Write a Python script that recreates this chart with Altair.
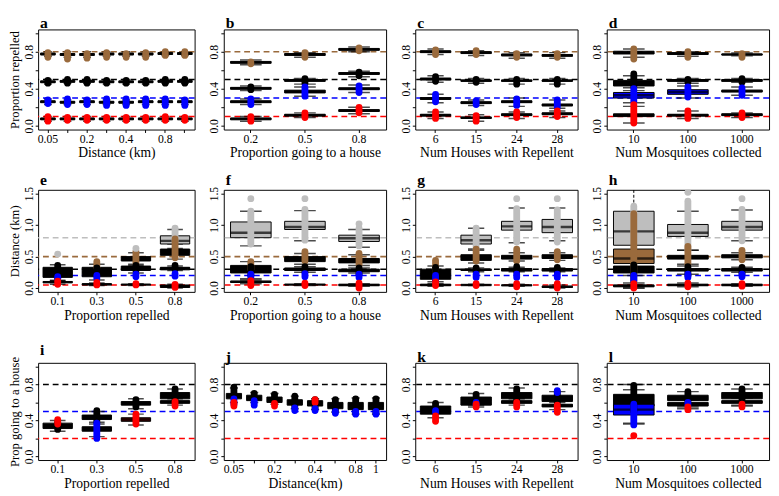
import json
import altair as alt
import pandas as pd

K = "black"; BR = "#9a6a3c"; BL = "#0000ff"; R = "#ff0000"; GR = "#bebebe"; DR = "#5a0000"
FONT = "Liberation Serif"
W1, W = 161, 167          # first-column panel width, other panels
H1, H2, H3 = 103, 105, 100

# ---------------- row 1 : Proportion repelled ----------------
A_CATS = ["0.05", "0.1", "0.2", "0.3", "0.4", "0.6", "0.8", "1"]
A_SHOWN = ["0.05", "0.2", "0.4", "0.8"]
A_BOX = [
    ("0.05", 0.75, 0.765, 0.775, 0.785, 0.80, K), ("0.05", 0.45, 0.465, 0.475, 0.485, 0.50, K), ("0.05", 0.23, 0.25, 0.26, 0.27, 0.29, K), ("0.05", 0.05, 0.065, 0.075, 0.085, 0.10, K),
    ("0.1", 0.74, 0.76, 0.77, 0.78, 0.80, K), ("0.1", 0.46, 0.47, 0.48, 0.49, 0.50, K), ("0.1", 0.23, 0.245, 0.255, 0.265, 0.28, K), ("0.1", 0.05, 0.065, 0.075, 0.085, 0.10, K),
    ("0.2", 0.74, 0.76, 0.77, 0.78, 0.80, K), ("0.2", 0.46, 0.47, 0.48, 0.49, 0.50, K), ("0.2", 0.23, 0.25, 0.26, 0.27, 0.29, K), ("0.2", 0.05, 0.065, 0.075, 0.085, 0.10, K),
    ("0.3", 0.75, 0.765, 0.775, 0.785, 0.80, K), ("0.3", 0.45, 0.465, 0.475, 0.485, 0.50, K), ("0.3", 0.23, 0.245, 0.255, 0.265, 0.28, K), ("0.3", 0.05, 0.065, 0.075, 0.085, 0.10, K),
    ("0.4", 0.75, 0.765, 0.775, 0.785, 0.80, K), ("0.4", 0.45, 0.465, 0.475, 0.485, 0.50, K), ("0.4", 0.23, 0.245, 0.255, 0.265, 0.28, K), ("0.4", 0.05, 0.065, 0.075, 0.085, 0.10, K),
    ("0.6", 0.75, 0.765, 0.775, 0.785, 0.80, K), ("0.6", 0.45, 0.465, 0.475, 0.485, 0.50, K), ("0.6", 0.23, 0.25, 0.26, 0.27, 0.29, K), ("0.6", 0.05, 0.065, 0.075, 0.085, 0.10, K),
    ("0.8", 0.76, 0.77, 0.78, 0.79, 0.80, K), ("0.8", 0.46, 0.47, 0.48, 0.49, 0.50, K), ("0.8", 0.23, 0.25, 0.26, 0.27, 0.29, K), ("0.8", 0.05, 0.065, 0.075, 0.085, 0.10, K),
    ("1", 0.76, 0.77, 0.78, 0.79, 0.80, K), ("1", 0.46, 0.47, 0.48, 0.49, 0.50, K), ("1", 0.23, 0.25, 0.26, 0.27, 0.29, K), ("1", 0.05, 0.065, 0.075, 0.085, 0.10, K),
]
A_PTS = [
    ("0.05", 0.74, 0.79, BR), ("0.05", 0.46, 0.49, K), ("0.05", 0.24, 0.28, BL), ("0.05", 0.05, 0.10, R),
    ("0.1", 0.72, 0.79, BR), ("0.1", 0.46, 0.50, K), ("0.1", 0.23, 0.29, BL), ("0.1", 0.06, 0.09, R),
    ("0.2", 0.73, 0.78, BR), ("0.2", 0.46, 0.50, K), ("0.2", 0.23, 0.28, BL), ("0.2", 0.06, 0.09, R),
    ("0.3", 0.74, 0.79, BR), ("0.3", 0.46, 0.49, K), ("0.3", 0.22, 0.29, BL), ("0.3", 0.06, 0.09, R),
    ("0.4", 0.74, 0.78, BR), ("0.4", 0.46, 0.49, K), ("0.4", 0.22, 0.29, BL), ("0.4", 0.06, 0.09, R),
    ("0.6", 0.74, 0.79, BR), ("0.6", 0.46, 0.49, K), ("0.6", 0.22, 0.29, BL), ("0.6", 0.06, 0.09, R),
    ("0.8", 0.76, 0.80, BR), ("0.8", 0.46, 0.50, K), ("0.8", 0.22, 0.29, BL), ("0.8", 0.06, 0.10, R),
    ("1", 0.76, 0.80, BR), ("1", 0.46, 0.50, K), ("1", 0.22, 0.28, BL), ("1", 0.06, 0.09, R),
]
A_OUT = []

B_CATS = ["0.2", "0.5", "0.8"]
B_BOX = [
    ("0.2", 0.66, 0.675, 0.685, 0.695, 0.71, K), ("0.2", 0.38, 0.395, 0.405, 0.415, 0.43, K), ("0.2", 0.23, 0.25, 0.26, 0.27, 0.29, K), ("0.2", 0.05, 0.065, 0.075, 0.085, 0.10, K),
    ("0.5", 0.74, 0.76, 0.77, 0.78, 0.79, K), ("0.5", 0.45, 0.48, 0.49, 0.50, 0.51, K), ("0.5", 0.32, 0.355, 0.37, 0.385, 0.42, K), ("0.5", 0.09, 0.105, 0.115, 0.125, 0.14, K),
    ("0.8", 0.80, 0.815, 0.825, 0.835, 0.85, K), ("0.8", 0.53, 0.555, 0.565, 0.575, 0.59, K), ("0.8", 0.36, 0.39, 0.40, 0.41, 0.44, K), ("0.8", 0.13, 0.155, 0.165, 0.175, 0.20, K),
]
B_PTS = [
    ("0.2", 0.67, 0.69, BR), ("0.2", 0.39, 0.42, K), ("0.2", 0.23, 0.29, BL), ("0.2", 0.05, 0.10, R),
    ("0.5", 0.74, 0.79, BR), ("0.5", 0.46, 0.51, K), ("0.5", 0.32, 0.42, BL), ("0.5", 0.09, 0.14, R),
    ("0.8", 0.81, 0.84, BR), ("0.8", 0.54, 0.58, K), ("0.8", 0.36, 0.43, BL), ("0.8", 0.14, 0.20, R),
]
B_OUT = []

C_CATS = ["6", "15", "24", "28"]
C_BOX = [
    ("6", 0.77, 0.79, 0.80, 0.81, 0.83, K), ("6", 0.47, 0.495, 0.505, 0.515, 0.54, K), ("6", 0.25, 0.285, 0.295, 0.305, 0.34, K), ("6", 0.08, 0.105, 0.115, 0.125, 0.15, K),
    ("15", 0.76, 0.78, 0.79, 0.80, 0.81, K), ("15", 0.46, 0.48, 0.487, 0.495, 0.51, K), ("15", 0.22, 0.24, 0.25, 0.26, 0.28, K), ("15", 0.05, 0.08, 0.087, 0.095, 0.12, K),
    ("24", 0.73, 0.755, 0.765, 0.775, 0.79, K), ("24", 0.45, 0.48, 0.487, 0.495, 0.51, K), ("24", 0.21, 0.25, 0.26, 0.27, 0.30, K), ("24", 0.08, 0.11, 0.12, 0.13, 0.15, K),
    ("28", 0.73, 0.75, 0.76, 0.77, 0.79, K), ("28", 0.45, 0.48, 0.487, 0.495, 0.51, K), ("28", 0.19, 0.215, 0.225, 0.235, 0.28, K), ("28", 0.09, 0.12, 0.13, 0.14, 0.16, K),
]
C_PTS = [
    ("6", 0.77, 0.82, BR), ("6", 0.48, 0.53, K), ("6", 0.26, 0.34, BL), ("6", 0.08, 0.15, R),
    ("15", 0.77, 0.81, BR), ("15", 0.47, 0.50, K), ("15", 0.23, 0.27, BL), ("15", 0.05, 0.11, R),
    ("24", 0.74, 0.78, BR), ("24", 0.45, 0.50, K), ("24", 0.22, 0.29, BL), ("24", 0.09, 0.15, R),
    ("28", 0.74, 0.78, BR), ("28", 0.45, 0.50, K), ("28", 0.20, 0.28, BL), ("28", 0.10, 0.16, R),
]
C_OUT = []

D_CATS = ["10", "100", "1000"]
D_BOX = [
    ("10", 0.74, 0.775, 0.79, 0.805, 0.83, K), ("10", 0.38, 0.43, 0.46, 0.49, 0.54, K), ("10", 0.25, 0.30, 0.33, 0.36, 0.41, BL), ("10", 0.03, 0.10, 0.115, 0.13, 0.21, K),
    ("100", 0.75, 0.77, 0.78, 0.79, 0.80, K), ("100", 0.46, 0.48, 0.49, 0.50, 0.51, K), ("100", 0.30, 0.34, 0.365, 0.39, 0.43, BL), ("100", 0.08, 0.105, 0.115, 0.125, 0.16, K),
    ("1000", 0.755, 0.765, 0.77, 0.775, 0.785, K), ("1000", 0.47, 0.48, 0.49, 0.50, 0.51, K), ("1000", 0.33, 0.365, 0.375, 0.385, 0.42, K), ("1000", 0.09, 0.11, 0.12, 0.13, 0.14, K),
]
D_PTS = [
    ("10", 0.72, 0.83, BR), ("10", 0.42, 0.56, K), ("10", 0.26, 0.40, BL), ("10", 0.03, 0.23, R),
    ("100", 0.74, 0.80, BR), ("100", 0.47, 0.50, K), ("100", 0.31, 0.42, BL), ("100", 0.08, 0.16, R),
    ("1000", 0.74, 0.78, BR), ("1000", 0.47, 0.51, K), ("1000", 0.33, 0.41, BL), ("1000", 0.09, 0.14, R),
]
D_OUT = []

ROW1_REFS = [(0.8, BR), (0.5, K), (0.3, BL), (0.1, R)]

# ---------------- row 2 : Distance (km) ----------------
E_CATS = ["0.1", "0.3", "0.5", "0.8"]
E_BOX = [
    ("0.1", 0.12, 0.17, 0.25, 0.33, 0.37, K), ("0.1", 0.06, 0.085, 0.095, 0.105, 0.12, K),
    ("0.3", 0.13, 0.18, 0.25, 0.33, 0.38, K), ("0.3", 0.04, 0.05, 0.06, 0.07, 0.08, K),
    ("0.5", 0.36, 0.43, 0.46, 0.50, 0.56, K), ("0.5", 0.24, 0.28, 0.31, 0.35, 0.38, K), ("0.5", 0.04, 0.05, 0.055, 0.06, 0.07, K),
    ("0.8", 0.63, 0.70, 0.75, 0.83, 0.93, GR), ("0.8", 0.46, 0.52, 0.58, 0.62, 0.70, K), ("0.8", 0.28, 0.29, 0.31, 0.33, 0.35, K), ("0.8", 0.0, 0.01, 0.03, 0.05, 0.06, K),
]
E_PTS = [
    ("0.1", 0.15, 0.36, K), ("0.1", 0.15, 0.18, BL), ("0.1", 0.06, 0.11, R),
    ("0.3", 0.33, 0.42, BR), ("0.3", 0.20, 0.32, K), ("0.3", 0.15, 0.20, BL), ("0.3", 0.05, 0.09, R),
    ("0.5", 0.40, 0.58, BR), ("0.5", 0.28, 0.36, K), ("0.5", 0.18, 0.22, BL), ("0.5", 0.05, 0.07, R),
    ("0.8", 0.75, 0.92, GR), ("0.8", 0.48, 0.78, BR), ("0.8", 0.30, 0.36, K), ("0.8", 0.19, 0.23, BL), ("0.8", 0.01, 0.06, R),
]
E_OUT = [("0.1", 0.54, GR), ("0.5", 0.63, GR), ("0.8", 0.95, GR)]

F_CATS = ["0.2", "0.5", "0.8"]
F_BOX = [
    ("0.2", 0.67, 0.80, 0.88, 1.05, 1.22, GR), ("0.2", 0.15, 0.24, 0.30, 0.36, 0.42, K), ("0.2", 0.07, 0.09, 0.10, 0.11, 0.13, K),
    ("0.5", 0.75, 0.93, 0.97, 1.06, 1.23, GR), ("0.5", 0.38, 0.42, 0.46, 0.50, 0.55, K), ("0.5", 0.25, 0.28, 0.30, 0.32, 0.34, K), ("0.5", 0.04, 0.05, 0.055, 0.06, 0.07, K),
    ("0.8", 0.65, 0.74, 0.79, 0.84, 0.93, GR), ("0.8", 0.36, 0.40, 0.44, 0.47, 0.53, K), ("0.8", 0.24, 0.26, 0.28, 0.30, 0.32, K), ("0.8", 0.03, 0.04, 0.05, 0.06, 0.07, K),
]
F_PTS = [
    ("0.2", 0.70, 1.22, GR), ("0.2", 0.30, 0.42, BR), ("0.2", 0.20, 0.34, K), ("0.2", 0.17, 0.22, BL), ("0.2", 0.04, 0.12, R),
    ("0.5", 0.76, 1.25, GR), ("0.5", 0.43, 0.58, BR), ("0.5", 0.26, 0.34, K), ("0.5", 0.18, 0.23, BL), ("0.5", 0.04, 0.08, R),
    ("0.8", 0.67, 0.95, GR), ("0.8", 0.37, 0.55, BR), ("0.8", 0.22, 0.32, K), ("0.8", 0.17, 0.22, BL), ("0.8", 0.0, 0.08, R),
]
F_OUT = [("0.2", 1.42, GR), ("0.5", 1.42, GR), ("0.8", 1.02, GR)]

G_CATS = ["6", "15", "24", "28"]
G_BOX = [
    ("6", 0.10, 0.14, 0.22, 0.30, 0.35, K), ("6", 0.03, 0.04, 0.05, 0.06, 0.07, K),
    ("15", 0.62, 0.70, 0.76, 0.84, 0.95, GR), ("15", 0.40, 0.44, 0.49, 0.53, 0.60, K), ("15", 0.26, 0.28, 0.29, 0.30, 0.32, K), ("15", 0.04, 0.045, 0.05, 0.055, 0.06, K),
    ("24", 0.72, 0.92, 0.98, 1.06, 1.27, GR), ("24", 0.43, 0.46, 0.49, 0.52, 0.56, K), ("24", 0.26, 0.27, 0.29, 0.31, 0.33, K), ("24", 0.03, 0.04, 0.045, 0.05, 0.06, K),
    ("28", 0.75, 0.88, 0.97, 1.09, 1.27, GR), ("28", 0.44, 0.47, 0.50, 0.53, 0.56, K), ("28", 0.26, 0.27, 0.29, 0.31, 0.32, K), ("28", 0.0, 0.01, 0.02, 0.03, 0.05, K),
]
G_PTS = [
    ("6", 0.25, 0.44, BR), ("6", 0.12, 0.33, K), ("6", 0.12, 0.20, BL), ("6", 0.04, 0.10, R),
    ("15", 0.62, 0.95, GR), ("15", 0.43, 0.62, BR), ("15", 0.26, 0.32, K), ("15", 0.17, 0.22, BL), ("15", 0.04, 0.07, R),
    ("24", 0.73, 1.26, GR), ("24", 0.43, 0.62, BR), ("24", 0.26, 0.34, K), ("24", 0.17, 0.22, BL), ("24", 0.02, 0.07, R),
    ("28", 0.73, 1.24, GR), ("28", 0.45, 0.58, BR), ("28", 0.26, 0.33, K), ("28", 0.17, 0.22, BL), ("28", 0.0, 0.07, R),
]
G_OUT = [("24", 1.42, GR), ("28", 1.42, GR)]

H_CATS = ["10", "100", "1000"]
H_BOX = [
    ("10", 0.20, 0.68, 0.90, 1.22, 1.70, GR), ("10", 0.0, 0.39, 0.47, 0.62, 0.87, BR), ("10", 0.05, 0.24, 0.30, 0.35, 0.55, K), ("10", 0.0, 0.02, 0.035, 0.05, 0.08, K),
    ("100", 0.60, 0.82, 0.88, 1.01, 1.22, GR), ("100", 0.38, 0.46, 0.49, 0.52, 0.60, K), ("100", 0.22, 0.27, 0.29, 0.31, 0.35, K), ("100", 0.02, 0.04, 0.05, 0.06, 0.08, K),
    ("1000", 0.75, 0.92, 0.97, 1.06, 1.24, GR), ("1000", 0.45, 0.48, 0.50, 0.53, 0.56, K), ("1000", 0.25, 0.27, 0.29, 0.31, 0.33, K), ("1000", 0.03, 0.04, 0.05, 0.06, 0.07, K),
]
H_PTS = [
    ("10", 0.80, 1.30, GR), ("10", 0.20, 1.18, BR), ("10", 0.10, 0.37, K), ("10", 0.12, 0.20, BL), ("10", 0.0, 0.07, R),
    ("100", 0.60, 1.38, GR), ("100", 0.38, 0.66, BR), ("100", 0.20, 0.34, K), ("100", 0.17, 0.22, BL), ("100", 0.02, 0.08, R),
    ("1000", 0.75, 1.25, GR), ("1000", 0.45, 0.60, BR), ("1000", 0.23, 0.33, K), ("1000", 0.18, 0.22, BL), ("1000", 0.03, 0.07, R),
]
H_OUT = [("100", 1.52, GR), ("1000", 1.42, GR)]

ROW2_REFS = [(0.8, GR), (0.5, BR), (0.3, K), (0.2, BL), (0.05, R)]

# ---------------- row 3 : Prop going to a house ----------------
I_CATS = ["0.1", "0.3", "0.5", "0.8"]
I_BOX = [
    ("0.1", 0.28, 0.31, 0.34, 0.37, 0.40, K),
    ("0.3", 0.36, 0.41, 0.435, 0.46, 0.50, K), ("0.3", 0.22, 0.28, 0.305, 0.33, 0.38, K),
    ("0.5", 0.53, 0.57, 0.59, 0.61, 0.64, K), ("0.5", 0.35, 0.39, 0.41, 0.43, 0.47, DR),
    ("0.8", 0.60, 0.64, 0.675, 0.71, 0.75, K), ("0.8", 0.57, 0.59, 0.605, 0.62, 0.64, K),
]
I_PTS = [
    ("0.1", 0.30, 0.38, K), ("0.1", 0.36, 0.41, R),
    ("0.3", 0.38, 0.51, K), ("0.3", 0.20, 0.37, BL),
    ("0.5", 0.55, 0.63, K), ("0.5", 0.36, 0.47, R),
    ("0.8", 0.60, 0.75, K), ("0.8", 0.56, 0.61, R),
]
I_OUT = []

J_CATS = ["0.05", "0.1", "0.2", "0.3", "0.4", "0.6", "0.8", "1"]
J_SHOWN = ["0.05", "0.2", "0.4", "0.8", "1"]
J_BOX = [
    ("0.05", 0.60, 0.64, 0.67, 0.70, 0.76, K), ("0.1", 0.60, 0.62, 0.65, 0.68, 0.71, K),
    ("0.2", 0.58, 0.60, 0.63, 0.66, 0.70, K), ("0.3", 0.53, 0.57, 0.60, 0.63, 0.67, K),
    ("0.4", 0.52, 0.56, 0.59, 0.62, 0.64, K), ("0.6", 0.49, 0.53, 0.565, 0.60, 0.64, K),
    ("0.8", 0.47, 0.52, 0.56, 0.60, 0.65, K), ("1", 0.47, 0.52, 0.56, 0.60, 0.65, K),
]
J_PTS = [
    ("0.05", 0.65, 0.77, K), ("0.05", 0.58, 0.64, BL), ("0.05", 0.56, 0.60, R),
    ("0.1", 0.64, 0.70, K), ("0.1", 0.57, 0.62, BL),
    ("0.2", 0.62, 0.69, K), ("0.2", 0.56, 0.59, R),
    ("0.3", 0.55, 0.67, K), ("0.3", 0.51, 0.54, BL),
    ("0.4", 0.53, 0.63, K), ("0.4", 0.60, 0.63, R), ("0.4", 0.51, 0.53, BL),
    ("0.6", 0.50, 0.63, K), ("0.6", 0.48, 0.50, BL),
    ("0.8", 0.48, 0.64, K), ("0.8", 0.47, 0.50, BL),
    ("1", 0.48, 0.64, K), ("1", 0.47, 0.50, BL),
]
J_OUT = []

K_CATS = ["6", "15", "24", "28"]
K_BOX = [
    ("6", 0.43, 0.47, 0.51, 0.56, 0.60, K),
    ("15", 0.57, 0.60, 0.63, 0.66, 0.70, K), ("15", 0.55, 0.57, 0.585, 0.60, 0.62, K),
    ("24", 0.60, 0.64, 0.675, 0.71, 0.76, K), ("24", 0.57, 0.59, 0.605, 0.62, 0.64, K),
    ("28", 0.57, 0.61, 0.645, 0.68, 0.72, K), ("28", 0.52, 0.55, 0.565, 0.58, 0.60, K),
]
K_PTS = [
    ("6", 0.48, 0.59, K), ("6", 0.49, 0.51, BL), ("6", 0.39, 0.45, R),
    ("15", 0.60, 0.69, K), ("15", 0.58, 0.60, BL), ("15", 0.55, 0.58, R),
    ("24", 0.60, 0.75, K), ("24", 0.55, 0.60, R),
    ("28", 0.60, 0.72, K), ("28", 0.71, 0.73, BL), ("28", 0.49, 0.57, R),
]
K_OUT = []

L_CATS = ["10", "100", "1000"]
L_BOX = [
    ("10", 0.37, 0.56, 0.625, 0.69, 0.80, K), ("10", 0.36, 0.46, 0.52, 0.58, 0.74, BL),
    ("100", 0.55, 0.62, 0.65, 0.68, 0.72, K), ("100", 0.53, 0.56, 0.58, 0.60, 0.63, K),
    ("1000", 0.57, 0.64, 0.675, 0.71, 0.75, K), ("1000", 0.56, 0.59, 0.605, 0.62, 0.65, K),
]
L_PTS = [
    ("10", 0.50, 0.79, K), ("10", 0.35, 0.58, BL),
    ("100", 0.60, 0.72, K), ("100", 0.57, 0.60, BL), ("100", 0.52, 0.55, R),
    ("1000", 0.62, 0.75, K), ("1000", 0.55, 0.58, R),
]
L_OUT = [("10", 0.23, R)]

ROW3_REFS = [(0.8, K), (0.5, BL), (0.2, R)]

Y13_TICKS = [0.0, 0.2, 0.4, 0.6, 0.8, 1.0]
Y2_TICKS = [0.0, 0.5, 1.0, 1.5]


def panel(letter, cats, boxes, pts, outs, refs, ydom, yticks, yexpr, xtitle, ytitle, pw, ph, shown=None):
    n = len(cats)
    band = pw / n
    shown = shown or cats
    bdf = pd.DataFrame(boxes, columns=["cat", "lo", "q1", "med", "q3", "hi", "fill"])
    pdf = pd.DataFrame(pts, columns=["cat", "lo", "hi", "col"])
    rdf = pd.DataFrame(refs, columns=["v", "col"])

    xaxis = alt.Axis(title=xtitle, labelAngle=0,
                     labelExpr="indexof(%s, datum.label) >= 0 ? datum.label : ''" % json.dumps(shown))
    xs = alt.Scale(domain=cats, paddingInner=0, paddingOuter=0)

    def X():
        return alt.X("cat:N", sort=cats, scale=xs, axis=xaxis)

    yaxis = alt.Axis(values=yticks, labelExpr=yexpr, labelAngle=-90, labelAlign="center",
                     labelBaseline="bottom", titleFontSize=13, titlePadding=1, labelPadding=0)
    ys = alt.Scale(domain=ydom, nice=False, zero=False)

    def Y(f):
        if ytitle:
            return alt.Y(f + ":Q", scale=ys, axis=yaxis, title=ytitle)
        return alt.Y(f + ":Q", scale=ys, axis=yaxis, title=None)

    refl = alt.Chart(rdf).mark_rule(strokeDash=[6, 4], strokeWidth=1.6).encode(
        y=Y("v"), color=alt.Color("col:N", scale=None))
    whisk = alt.Chart(bdf).mark_rule(strokeDash=[3, 2], strokeWidth=1, color="black", clip=True).encode(
        x=X(), y=Y("lo"), y2="hi")
    caplo = alt.Chart(bdf).mark_tick(size=band * 0.4, thickness=1.5, color="black", clip=True).encode(x=X(), y=Y("lo"))
    caphi = alt.Chart(bdf).mark_tick(size=band * 0.4, thickness=1.5, color="black", clip=True).encode(x=X(), y=Y("hi"))
    box = alt.Chart(bdf).mark_bar(width=alt.RelativeBandSize(0.75), stroke="black", strokeWidth=1, clip=True).encode(
        x=X(), y=Y("q1"), y2="q3", fill=alt.Color("fill:N", scale=None))
    med = alt.Chart(bdf).mark_tick(size=band * 0.75, thickness=2.5, color="black", clip=True).encode(x=X(), y=Y("med"))
    pt = alt.Chart(pdf).mark_rule(strokeWidth=7, strokeCap="round", clip=True).encode(
        x=X(), y=Y("lo"), y2="hi", color=alt.Color("col:N", scale=None))
    layers = [refl, whisk, caplo, caphi, box, med, pt]
    if outs:
        odf = pd.DataFrame(outs, columns=["cat", "v", "col"])
        layers.append(alt.Chart(odf).mark_circle(size=50, opacity=1, clip=True).encode(
            x=X(), y=Y("v"), color=alt.Color("col:N", scale=None)))
    return alt.layer(*layers).properties(
        width=pw, height=ph,
        title=alt.TitleParams(letter, anchor="start", frame="group", fontSize=16, fontWeight="bold",
                              font=FONT, offset=-2, dx=2))


E13 = "round(datum.value*10) % 4 == 0 ? format(datum.value, '.1f') : ''"
E2 = "format(datum.value, '.1f')"
D13 = [-0.04, 1.04]
D2 = [-0.06, 1.56]
HS = 11

row1 = alt.hconcat(
    panel("a", A_CATS, A_BOX, A_PTS, A_OUT, ROW1_REFS, D13, Y13_TICKS, E13, "Distance (km)", "Proportion repelled", W1, H1, A_SHOWN),
    panel("b", B_CATS, B_BOX, B_PTS, B_OUT, ROW1_REFS, D13, Y13_TICKS, E13, "Proportion going to a house", None, W, H1),
    panel("c", C_CATS, C_BOX, C_PTS, C_OUT, ROW1_REFS, D13, Y13_TICKS, E13, "Num Houses with Repellent", None, W, H1),
    panel("d", D_CATS, D_BOX, D_PTS, D_OUT, ROW1_REFS, D13, Y13_TICKS, E13, "Num Mosquitoes collected", None, W, H1),
    spacing=HS)
row2 = alt.hconcat(
    panel("e", E_CATS, E_BOX, E_PTS, E_OUT, ROW2_REFS, D2, Y2_TICKS, E2, "Proportion repelled", "Distance (km)", W1, H2),
    panel("f", F_CATS, F_BOX, F_PTS, F_OUT, ROW2_REFS, D2, Y2_TICKS, E2, "Proportion going to a house", None, W, H2),
    panel("g", G_CATS, G_BOX, G_PTS, G_OUT, ROW2_REFS, D2, Y2_TICKS, E2, "Num Houses with Repellent", None, W, H2),
    panel("h", H_CATS, H_BOX, H_PTS, H_OUT, ROW2_REFS, D2, Y2_TICKS, E2, "Num Mosquitoes collected", None, W, H2),
    spacing=HS)
row3 = alt.hconcat(
    panel("i", I_CATS, I_BOX, I_PTS, I_OUT, ROW3_REFS, D13, Y13_TICKS, E13, "Proportion repelled", "Prop going to a house", W1, H3),
    panel("j", J_CATS, J_BOX, J_PTS, J_OUT, ROW3_REFS, D13, Y13_TICKS, E13, "Distance(km)", None, W, H3, J_SHOWN),
    panel("k", K_CATS, K_BOX, K_PTS, K_OUT, ROW3_REFS, D13, Y13_TICKS, E13, "Num Houses with Repellent", None, W, H3),
    panel("l", L_CATS, L_BOX, L_PTS, L_OUT, ROW3_REFS, D13, Y13_TICKS, E13, "Num Mosquitoes collected", None, W, H3),
    spacing=HS)

chart = alt.vconcat(row1, alt.vconcat(row2, row3, spacing=19), spacing=11).configure(
    padding={"left": 0, "top": 0, "right": 0, "bottom": 0}, background="white"
).configure_view(stroke="black", strokeWidth=1).configure_axis(
    labelFont=FONT, titleFont=FONT, labelFontSize=12, titleFontSize=14, labelColor="black", titleColor="black",
    titleFontWeight="normal", tickColor="black", tickSize=3, domain=False, grid=False,
    labelPadding=1, titlePadding=2)

chart.save("out.html", embed_options={"renderer": "svg", "actions": False})
